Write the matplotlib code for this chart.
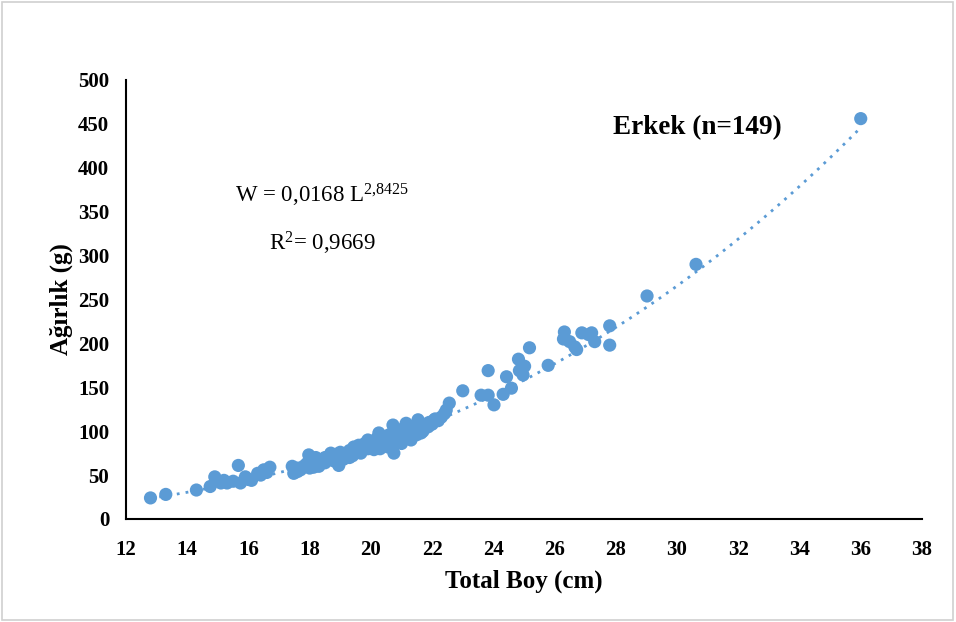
import numpy as np
import matplotlib
matplotlib.use("Agg")
import matplotlib.pyplot as plt
from matplotlib.patches import Rectangle

# Total length (cm) and weight (g)
length_cm = [
    12.8, 13.3, 14.3, 14.75, 14.9, 15.1, 15.3, 15.67, 15.74, 16.1, 16.3, 16.5, 16.7,
    17.43, 17.48, 17.7, 17.97, 18.13, 18.36, 18.69, 18.95, 19.11, 19.44, 19.67, 19.9,
    20.1, 20.26, 20.56, 20.72, 20.75, 20.98, 21.15, 21.31, 21.54, 21.64, 21.87, 22.07,
    22.3, 22.46, 22.56, 23.0, 23.6, 23.83, 24.02, 23.83, 24.32, 24.43, 24.59, 24.82,
    24.85, 25.02, 25.18, 24.97, 25.79, 26.32, 26.29, 26.49, 26.66, 26.72, 26.89, 27.11,
    27.21, 27.31, 27.8, 27.8, 29.02, 30.62, 36.0,
    15.2, 15.5, 15.9, 16.0, 16.4, 16.6,
    17.5, 17.6, 17.6, 17.8, 17.9, 18.0, 18.0, 18.1, 18.2, 18.3, 18.4, 18.5, 18.5, 18.6,
    18.7, 18.8, 18.9, 19.0, 19.0, 19.1, 19.2, 19.3, 19.4, 19.5, 19.5, 19.6, 19.7, 19.8,
    19.8, 19.9, 20.0, 20.0, 20.1, 20.2, 20.2, 20.3, 20.4, 20.4, 20.5, 20.5, 20.6, 20.6,
    20.7, 20.8, 20.8, 20.9, 20.9, 21.0, 21.0, 21.1, 21.1, 21.2, 21.2, 21.3, 21.4, 21.4,
    21.5, 21.5, 21.6, 21.7, 21.7, 21.8, 21.9, 22.0, 22.1, 22.2, 22.4, 19.3, 20.3, 21.0,
    18.2, 20.7, 21.3,
]
weight_g = [
    24, 28, 33, 37, 48, 41, 41, 61, 41, 44, 52, 56, 59,
    60, 52, 56, 73, 59, 64, 75, 61, 71, 82, 75, 90,
    79, 98, 82, 107, 75, 98, 109, 90, 113, 98, 105, 113,
    116, 124, 132, 146, 141, 141, 130, 169, 142, 162, 149, 182,
    169, 174, 195, 164, 175, 213, 205, 202, 196, 193, 212, 210,
    212, 202, 220, 198, 254, 290, 456,
    44, 43, 48, 45, 50, 53,
    56, 58, 54, 60, 63, 58, 66, 62, 68, 60, 66, 70, 64, 68,
    72, 66, 74, 70, 76, 68, 74, 78, 72, 76, 80, 84, 78, 82,
    86, 80, 84, 88, 82, 86, 92, 84, 88, 94, 90, 86, 92, 96,
    88, 94, 100, 90, 96, 92, 102, 96, 100, 94, 104, 98, 100, 106,
    96, 102, 104, 100, 108, 106, 110, 108, 114, 112, 120, 70, 80, 86,
    70, 84, 92,
]

# Power fit W = a * L^b shown on the chart
fit_a = 0.0168
fit_b = 2.8425
eq_text = r"W = 0,0168 L$^{2{,}8425}$"
r2_text = r"R$^{2}$= 0,9669"
title_text = "Erkek (n=149)"
x_label = "Total Boy (cm)"
y_label = "Ağırlık (g)"
x_ticks = [12, 14, 16, 18, 20, 22, 24, 26, 28, 30, 32, 34, 36, 38]
y_ticks = [0, 50, 100, 150, 200, 250, 300, 350, 400, 450, 500]

blue = "#5B9BD5"
plt.rcParams["font.family"] = ["Liberation Serif", "DejaVu Serif"]
plt.rcParams["mathtext.fontset"] = "custom"
plt.rcParams["mathtext.rm"] = "Liberation Serif"
plt.rcParams["mathtext.it"] = "Liberation Serif:italic"
plt.rcParams["mathtext.bf"] = "Liberation Serif:bold"

fig = plt.figure(figsize=(9.56, 6.22), dpi=100)
fig.patches.append(Rectangle((0.002, 0.004), 0.995, 0.992, transform=fig.transFigure,
                             fill=False, edgecolor="#D0D0D0", linewidth=1.2))
ax = fig.add_axes([0.1318, 0.1656, 0.8326, 0.7058])

ax.scatter(length_cm, weight_g, s=90, color=blue, edgecolors="none", zorder=3)

L = np.linspace(min(length_cm), max(length_cm), 300)
ax.plot(L, fit_a * L ** fit_b, color=blue, linestyle=(0, (1, 2.2)), linewidth=2.0, zorder=2)

ax.set_xlim(12, 38)
ax.set_ylim(0, 500)
ax.set_xticks(x_ticks)
ax.set_yticks(y_ticks)
ax.tick_params(axis="both", length=0, labelsize=15)
ax.tick_params(axis="x", pad=15)
ax.tick_params(axis="y", pad=12)
for lab in ax.get_xticklabels() + ax.get_yticklabels():
    lab.set_fontweight("bold")

for side in ["top", "right"]:
    ax.spines[side].set_visible(False)
for side in ["left", "bottom"]:
    ax.spines[side].set_color("black")
    ax.spines[side].set_linewidth(1.5)

ax.set_xlabel(x_label, fontsize=18, fontweight="bold", labelpad=7)
ax.set_ylabel(y_label, fontsize=18, fontweight="bold", labelpad=4)

ax.text(30.66, 446, title_text, fontsize=19.5, fontweight="bold", ha="center", va="center")
ax.text(18.4, 369, eq_text, fontsize=16.5, ha="center", va="center")
ax.text(18.4, 314, r2_text, fontsize=16.5, ha="center", va="center")

fig.savefig("out.png", dpi=100)
